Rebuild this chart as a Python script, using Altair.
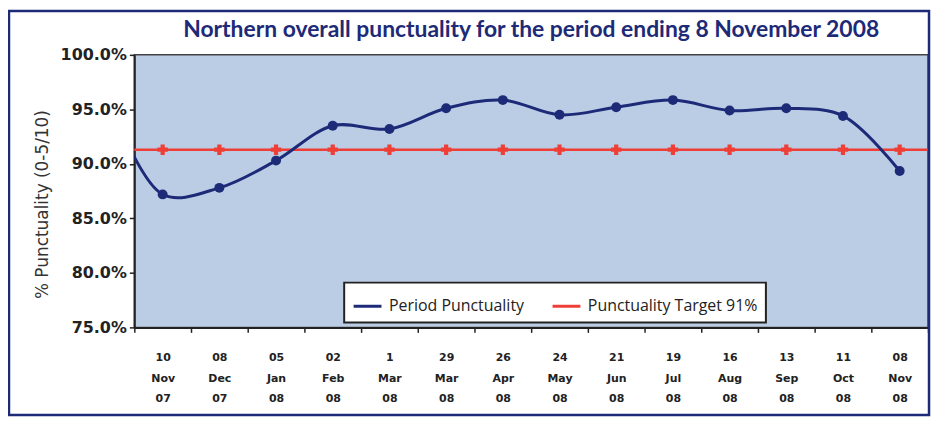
import altair as alt
import pandas as pd

# ---- data ----
periods = ["10 Nov 07", "08 Dec 07", "05 Jan 08", "02 Feb 08", "1 Mar 08", "29 Mar 08",
           "26 Apr 08", "24 May 08", "21 Jun 08", "19 Jul 08", "16 Aug 08", "13 Sep 08",
           "11 Oct 08", "08 Nov 08"]
punctuality = [87.2, 87.8, 90.3, 93.5, 93.2, 95.1, 95.85, 94.5, 95.2, 95.85, 94.9, 95.1, 94.4, 89.35]
target = [91.3, 91.3, 91.3, 91.3, 91.3, 91.3, 91.3, 91.3, 91.3, 91.3, 91.3, 91.3, 91.3, 91.3]
# the curve enters from the left edge: previous period (13 Oct 07), off the chart
prev_value = 96.5
y_ticks = [75, 80, 85, 90, 95, 100]

SERIES = ["Period Punctuality", "Punctuality Target 91%"]
NAVY = "#1d2a78"
RED = "#ee3e35"
BG = "#bacde5"

n = len(periods)
period_df = pd.DataFrame({"period": periods, "value": punctuality, "series": [SERIES[0]] * n})
target_df = pd.DataFrame({"period": periods, "value": target, "series": [SERIES[1]] * n})
line_df = pd.DataFrame({"idx": [-1] + list(range(n)),
                        "value": [prev_value] + punctuality,
                        "series": [SERIES[0]] * (n + 1)})

color_scale = alt.Scale(domain=SERIES, range=[NAVY, RED])
yscale = alt.Scale(domain=[75, 100], nice=False, zero=False)
yaxis = alt.Axis(values=y_ticks, labelExpr="format(datum.value, '.1f') + '%'",
                 title="% Punctuality (0-5/10)", grid=False)
xaxis = alt.Axis(title=None, labelAngle=0, labelExpr="split(datum.label, ' ')",
                 tickBand="extent", grid=False)
xband_scale = alt.Scale(paddingInner=0, paddingOuter=0)
color = alt.Color("series:N", scale=color_scale)

rule = alt.Chart(target_df).mark_rule(strokeWidth=2.5).encode(
    y=alt.Y("mean(value):Q", scale=yscale, axis=yaxis),
    color=color,
)
markers = alt.Chart(target_df).mark_point(shape="cross", filled=True, size=110, opacity=1).encode(
    x=alt.X("period:N", sort=periods, scale=xband_scale, axis=xaxis),
    y=alt.Y("value:Q", scale=yscale, axis=yaxis),
    color=color,
)
line = alt.Chart(line_df).mark_line(interpolate="catmull-rom", strokeWidth=3, clip=True).encode(
    x=alt.X("idx:Q", scale=alt.Scale(domain=[-0.5, 13.5], nice=False, zero=False), axis=None),
    y=alt.Y("value:Q", scale=yscale, axis=yaxis),
    color=color,
)
points = alt.Chart(period_df).mark_circle(size=100, opacity=1, color=NAVY).encode(
    x=alt.X("period:N", sort=periods, scale=xband_scale, axis=None),
    y=alt.Y("value:Q", scale=yscale, axis=yaxis),
)
frame = alt.Chart(pd.DataFrame({"f": [0]})).mark_rect(
    filled=False, stroke=NAVY, strokeWidth=2.5, clip=False
).encode(x=alt.value(-126), x2=alt.value(799), y=alt.value(-44), y2=alt.value(362))

chart = alt.layer(rule, markers, line, points, frame).resolve_scale(x="independent").properties(
    width=798, height=274,
    autosize="none",
    padding={"left": 127, "top": 46, "right": 4, "bottom": 92},
    title=alt.TitleParams(
        "Northern overall punctuality for the period ending 8 November 2008",
        font="Lato", fontSize=23, fontWeight="bold", color=NAVY, anchor="middle",
        frame="group", offset=-32,
    ),
).configure_view(
    fill=BG, stroke="#444444", strokeWidth=1.5
).configure_axis(
    domainColor="#222222", domainWidth=2, tickColor="#222222", tickWidth=1.5, tickSize=5,
).configure_axisY(
    labelFont="DejaVu Sans", labelFontWeight="bold", labelFontSize=16, labelColor="#222222",
    labelPadding=3, titleFont="DejaVu Sans", titleFontWeight="normal", titleFontSize=17,
    titleColor="#333333", titlePadding=9, titleY=150,
).configure_axisX(
    labelFont="DejaVu Sans", labelFontWeight="bold", labelFontSize=11, labelColor="#222222",
    labelLineHeight=21, labelPadding=19, labelBaseline="top",
).configure_legend(
    orient="none", legendX=211, legendY=229, direction="horizontal", title=None,
    fillColor="white", strokeColor="#222222", strokeWidth=2, padding=8,
    symbolType="stroke", symbolStrokeWidth=3, symbolSize=784,
    labelFont="Open Sans", labelFontSize=16, labelColor="#222222", labelOffset=6,
    labelLimit=400, columnPadding=22,
)

chart.save("out.html", embed_options={"renderer": "svg", "actions": False})
